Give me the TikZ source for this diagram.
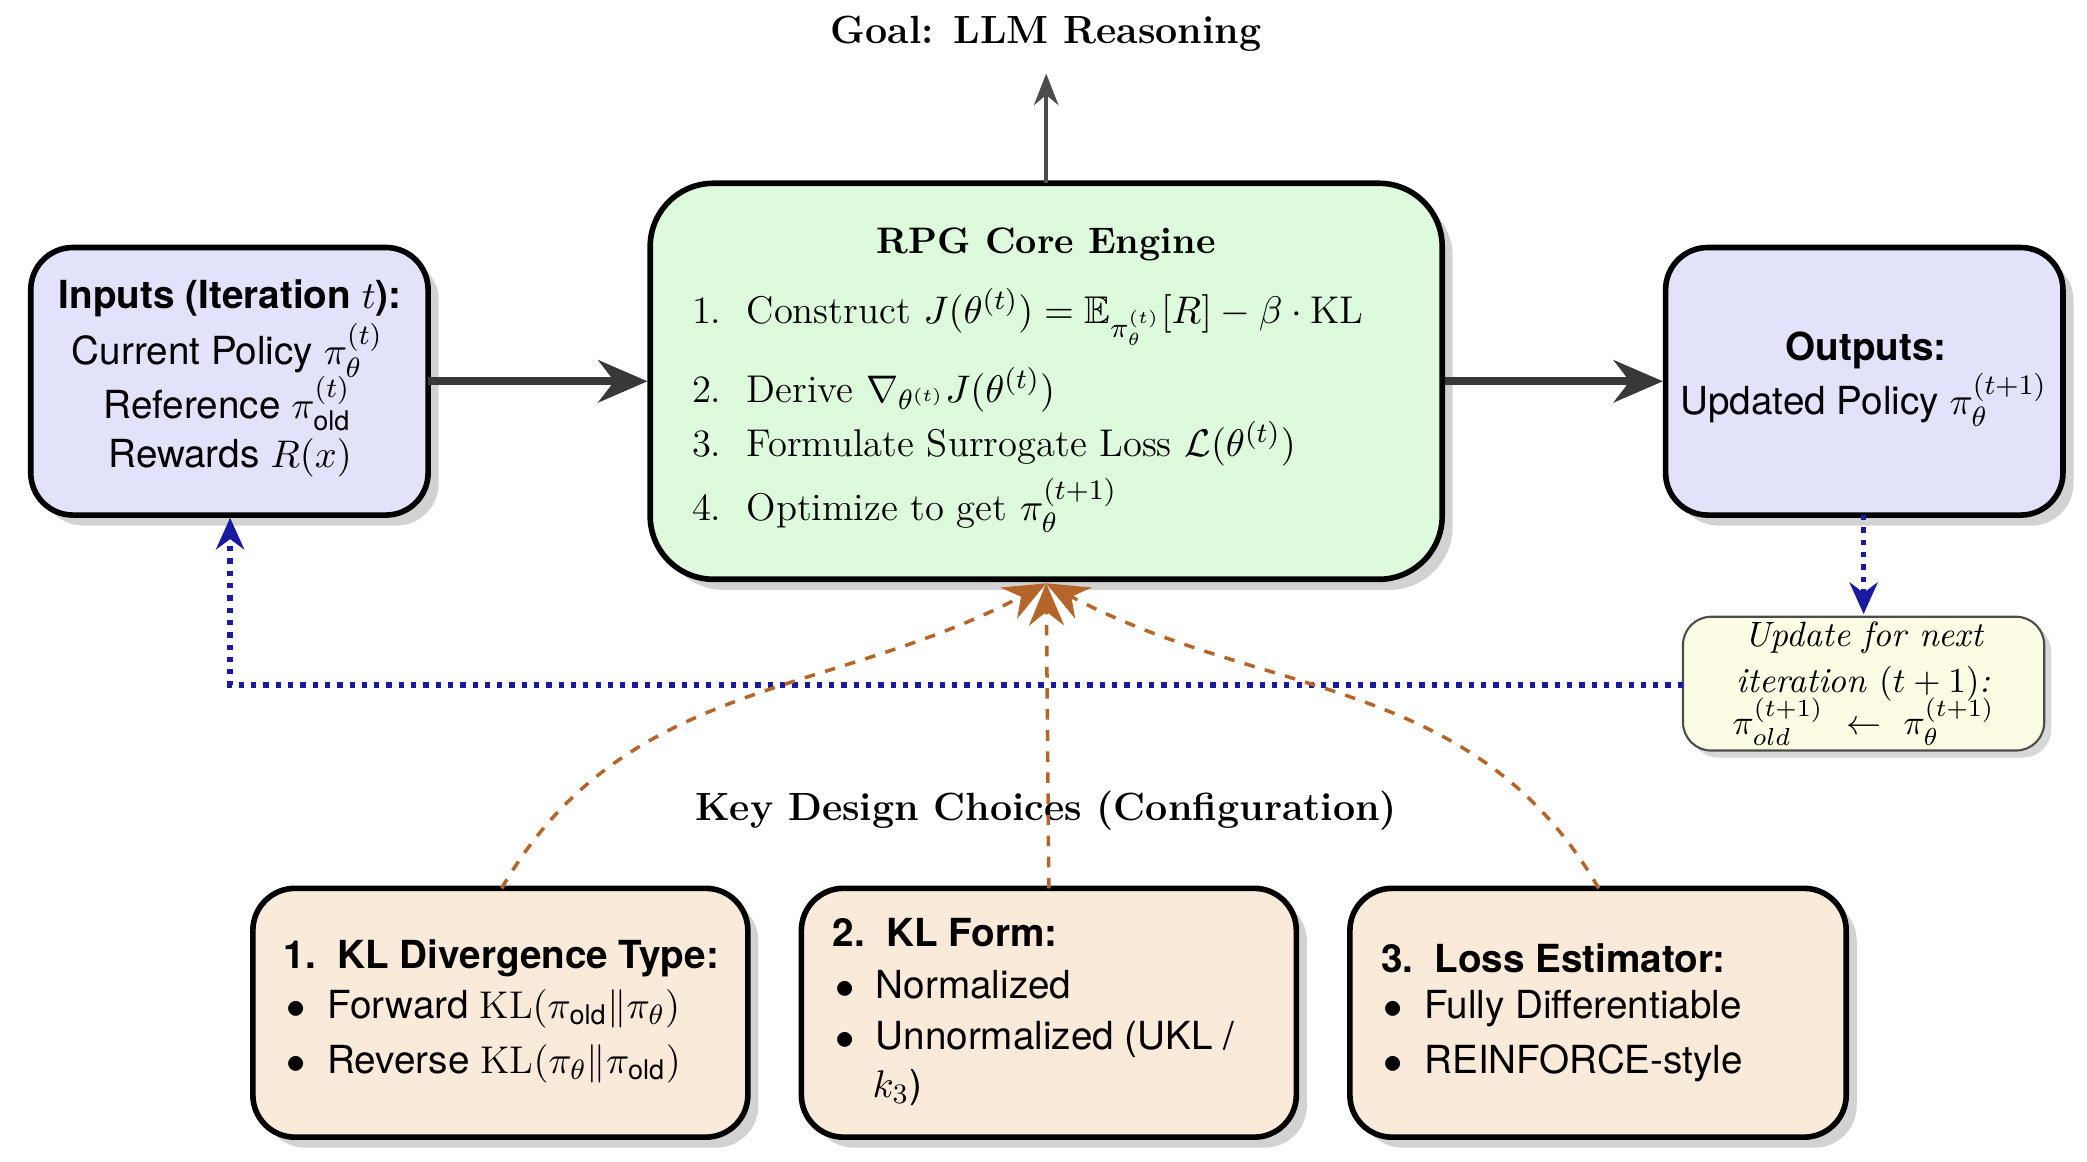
\documentclass[tikz,border=0pt]{standalone}
\usepackage{amsmath,amssymb}
\usepackage{fontspec}
\newfontfamily\hv{TeX Gyre Heros}
\usetikzlibrary{arrows.meta,shadows}
\definecolor{coreg}{HTML}{DDFADD}
\definecolor{lav}{HTML}{E2E2FA}
\definecolor{upd}{HTML}{FDFDE6}
\definecolor{beige}{HTML}{F9EADA}
\definecolor{brn}{HTML}{B5652A}
\definecolor{dblue}{HTML}{1A1AA0}
\begin{document}
\begin{tikzpicture}[x=0.01338cm,y=-0.01338cm,
  box/.style={draw=black,line width=1.6pt,rounded corners=12pt,drop shadow={shadow xshift=3pt,shadow yshift=-3pt,fill=black!35}},
  thk/.style={-{Stealth[length=14pt,width=12pt]},line width=2.2pt,draw=black!78},
  dot/.style={-{Stealth[length=9pt,width=8pt]},dotted,line width=1.5pt,draw=dblue},
  dsh/.style={dashed,line width=1pt,draw=brn},
  ttl/.style={font=\fontsize{11.2}{13}\selectfont\bfseries},
  itm/.style={font=\fontsize{11}{13}\selectfont,anchor=west},
  sf/.style={font=\hv\fontsize{11}{13}\selectfont},
  sfb/.style={font=\hv\fontsize{11}{13}\selectfont\bfseries}]
\useasboundingbox (0,0) rectangle (1560,868);
\node[ttl] (goal) at (782,25) {Goal: LLM Reasoning};
\draw[box,fill=coreg,rounded corners=18pt] (486,137) rectangle (1078,433);
\coordinate (coreT) at (782,137);
\coordinate (coreB) at (782,436);
\coordinate (coreL) at (484,285);
\coordinate (coreR) at (1080,285);
\draw[-{Stealth[length=9pt,width=7pt]},line width=1pt,draw=black!70] (coreT) -- (782,55);
\node[ttl,font=\fontsize{10.5}{13}\selectfont\bfseries] (ct) at (782,183) {RPG Core Engine};
\node[itm] (c1) at (508,237) {1.\ \ Construct $J(\theta^{(t)})=\mathbb{E}_{\pi_\theta^{(t)}}[R]-\beta\cdot\mathrm{KL}$};
\node[itm] (c2) at (508,291) {2.\ \ Derive $\nabla_{\theta^{(t)}}J(\theta^{(t)})$};
\node[itm] (c3) at (508,332) {3.\ \ Formulate Surrogate Loss $\mathcal{L}(\theta^{(t)})$};
\node[itm] (c4) at (508,378) {4.\ \ Optimize to get $\pi_\theta^{(t+1)}$};
% inputs
\draw[box,fill=lav] (23,185) rectangle (320,385);
\coordinate (inR) at (320,285);
\coordinate (inB) at (172,387);
\node[sfb] (i1) at (172,223) {Inputs (Iteration $t$):};
\node[sf] (i2) at (170,262) {Current Policy $\pi_\theta^{(t)}$};
\node[sf] (i3) at (170,302) {Reference $\pi_{\text{\hv old}}^{(t)}$};
\node[sf] (i4) at (172,342) {Rewards $R(x)$};
% outputs
\draw[box,fill=lav] (1245,185) rectangle (1542,385);
\coordinate (outL) at (1243,285);
\coordinate (outB) at (1393,385);
\node[sfb] (o1) at (1395,262) {Outputs:};
\node[sf] (o2) at (1393,299) {Updated Policy $\pi_\theta^{(t+1)}$};
\draw[thk] (inR) -- (coreL);
\draw[thk] (coreR) -- (outL);
% update
\draw[draw=black!70,line width=0.6pt,fill=upd,rounded corners=8pt,drop shadow={shadow xshift=2pt,shadow yshift=-2pt,fill=black!30}] (1258,461) rectangle (1528,561);
\coordinate (upT) at (1393,459);
\coordinate (upL) at (1258,512);
\node[font=\fontsize{10}{12}\selectfont\itshape,align=center] (u) at (1393,511) {Update for next\\[1pt] iteration $(t+1)$:\\[-2pt] $\pi_{old}^{(t+1)}\ \leftarrow\ \pi_\theta^{(t+1)}$};
\draw[dot] (outB) -- (upT);
\draw[dot] (upL) -- (172,512) -- (inB);
% key design
\node[ttl] (kd) at (782,606) {Key Design Choices (Configuration)};
\draw[box,fill=beige] (189,664) rectangle (559,850);
\draw[box,fill=beige] (599,664) rectangle (969,850);
\draw[box,fill=beige] (1009,664) rectangle (1380,850);
\coordinate (b1) at (375,664); \coordinate (b2) at (784,664); \coordinate (b3) at (1195,664);
\node[sfb,anchor=west] (t1) at (203,716) {1.\ \ KL Divergence Type:};
\node[sf,anchor=west] (t1a) at (205,754) {$\bullet$\ \ Forward $\mathrm{KL}(\pi_{\text{\hv old}}\|\pi_\theta)$};
\node[sf,anchor=west] (t1b) at (205,795) {$\bullet$\ \ Reverse $\mathrm{KL}(\pi_\theta\|\pi_{\text{\hv old}})$};
\node[sfb,anchor=west] (t2) at (613,697) {2.\ \ KL Form:};
\node[sf,anchor=west] (t2a) at (615,736) {$\bullet$\ \ Normalized};
\node[sf,anchor=west] (t2b) at (615,777) {$\bullet$\ \ Unnormalized (UKL /};
\node[sf,anchor=west] (t2c) at (643,813) {$k_3$)};
\node[sfb,anchor=west] (t3) at (1023,716) {3.\ \ Loss Estimator:};
\node[sf,anchor=west] (t3a) at (1025,754) {$\bullet$\ \ Fully Differentiable};
\node[sf,anchor=west] (t3b) at (1025,795) {$\bullet$\ \ REINFORCE-style};
\draw[dsh,-{Stealth[length=12pt,width=10pt]}] (b1) to[out=60,in=-152] (coreB);
\draw[dsh,-{Stealth[length=12pt,width=10pt]}] (b2) -- (coreB);
\draw[dsh,-{Stealth[length=12pt,width=10pt]}] (b3) to[out=120,in=-28] (coreB);
\end{tikzpicture}
\end{document}
